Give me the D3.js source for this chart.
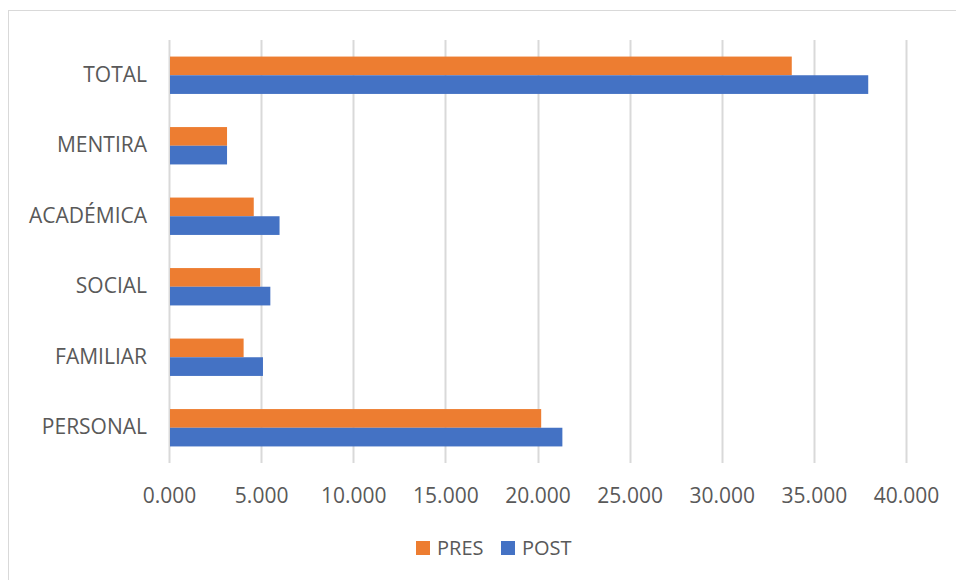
<!DOCTYPE html>
<html>
<head>
<meta charset="utf-8">
<script src="https://cdn.jsdelivr.net/npm/d3@7"></script>
<style>
  body { margin: 0; background: #fff; }
  text { font-family: "Open Sans", sans-serif; fill: #595959; }
</style>
</head>
<body>
<div id="chart"></div>
<script>
const categories = ["TOTAL", "MENTIRA", "ACADÉMICA", "SOCIAL", "FAMILIAR", "PERSONAL"];
const presValues = [33.8, 3.15, 4.6, 4.95, 4.05, 20.2];
const postValues = [37.95, 3.15, 6.0, 5.5, 5.1, 21.35];
const seriesNames = ["PRES", "POST"];
const seriesColors = ["#ED7D31", "#4472C4"];
const xTicks = [0, 5, 10, 15, 20, 25, 30, 35, 40];

const width = 956, height = 580;
const plot = { left: 169, right: 906, top: 40, bottom: 463 };

const svg = d3.select("#chart").append("svg")
  .attr("width", width)
  .attr("height", height);

// chart border (right and bottom fall outside the picture)
svg.append("rect")
  .attr("x", 8.5).attr("y", 10.5)
  .attr("width", 1000).attr("height", 1000)
  .attr("fill", "none")
  .attr("stroke", "#d9d9d9")
  .attr("stroke-width", 1);

const xScale = d3.scaleLinear().domain([0, 40]).range([plot.left, plot.right]);
const yScale = d3.scaleBand().domain(categories)
  .range([plot.top, plot.bottom])
  .paddingInner(0.47).paddingOuter(0.235);
const subScale = d3.scaleBand().domain(seriesNames).range([0, yScale.bandwidth()]);

// gridlines
svg.append("g").selectAll("line")
  .data(xTicks)
  .join("line")
  .attr("x1", (d) => Math.round(xScale(d)) + 0.5)
  .attr("x2", (d) => Math.round(xScale(d)) + 0.5)
  .attr("y1", plot.top)
  .attr("y2", plot.bottom)
  .attr("stroke", "#d9d9d9")
  .attr("stroke-width", 2);

// x tick labels
const xAxis = d3.axisBottom(xScale)
  .tickValues(xTicks)
  .tickSize(0)
  .tickPadding(0)
  .tickFormat((d) => d3.format(".3f")(d));

svg.append("g")
  .attr("transform", `translate(0, ${plot.bottom})`)
  .call(xAxis)
  .call((g) => g.select(".domain").remove())
  .call((g) => g.selectAll("text")
    .attr("y", 40)
    .attr("dy", 0)
    .style("font-size", "21px")
    .style("font-family", "'Open Sans', sans-serif")
    .attr("fill", "#595959"));

// category labels
const yAxis = d3.axisLeft(yScale).tickSize(0).tickPadding(22);
svg.append("g")
  .attr("transform", `translate(${plot.left}, 0)`)
  .call(yAxis)
  .call((g) => g.select(".domain").remove())
  .call((g) => g.selectAll("text")
    .style("font-size", "21px")
    .style("font-family", "'Open Sans', sans-serif")
    .attr("fill", "#595959"));

// bars
const rows = categories.map((c, i) => ({ cat: c, values: [presValues[i], postValues[i]] }));

const groups = svg.append("g").selectAll("g")
  .data(rows)
  .join("g")
  .attr("transform", (d) => `translate(0, ${yScale(d.cat)})`);

groups.selectAll("rect")
  .data((d) => d.values.map((v, j) => ({ series: seriesNames[j], value: v, color: seriesColors[j] })))
  .join("rect")
  .attr("x", xScale(0) + 1)
  .attr("y", (d) => subScale(d.series))
  .attr("width", (d) => xScale(d.value) - xScale(0) - 1)
  .attr("height", subScale.bandwidth())
  .attr("fill", (d) => d.color);

// legend
const legend = svg.append("g").attr("transform", "translate(416, 541)");
const legendOffsets = [0, 85];
seriesNames.forEach((name, i) => {
  const item = legend.append("g").attr("transform", `translate(${legendOffsets[i]}, 0)`);
  item.append("rect")
    .attr("width", 14).attr("height", 14)
    .attr("fill", seriesColors[i]);
  item.append("text")
    .attr("x", 21).attr("y", 14)
    .style("font-size", "20px")
    .text(name);
});
</script>
</body>
</html>
